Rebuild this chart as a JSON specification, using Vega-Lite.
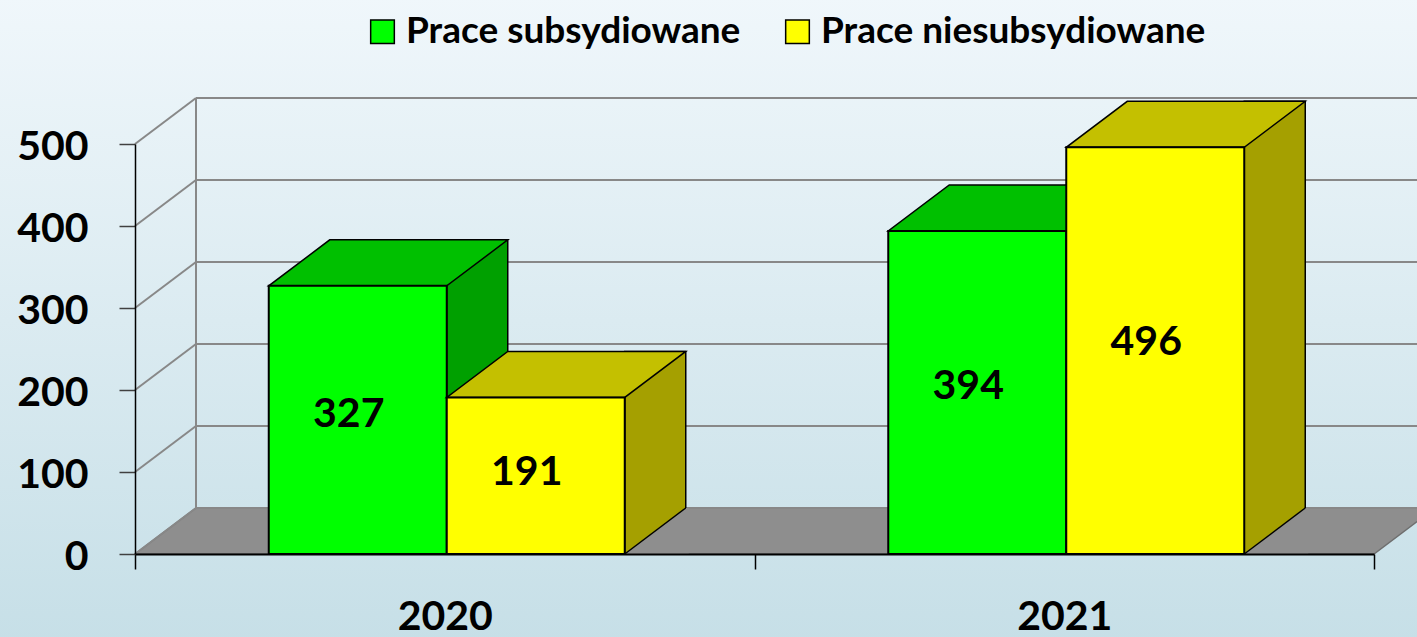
{
  "$schema": "https://vega.github.io/schema/vega-lite/v6.json",
  "width": 1239,
  "height": 410,
  "autosize": {"type": "none"},
  "padding": {"left": 135, "top": 144, "right": 43, "bottom": 83},
  "background": "#dcebf1",
  "config": {
    "view": {"stroke": null},
    "font": "Lato",
    "legend": {"padding": 0, "symbolType": "square", "symbolSize": 560, "symbolStrokeColor": "black", "symbolStrokeWidth": 1.5, "symbolOpacity": 1, "labelFont": "Lato", "labelFontWeight": "bold", "labelFontSize": 37, "labelColor": "black", "labelOffset": 5, "columnPadding": 38, "labelLimit": 600}
  },
  "data": {"values": [
    {"year": "2020", "series": "Prace subsydiowane", "value": 327},
    {"year": "2020", "series": "Prace niesubsydiowane", "value": 191},
    {"year": "2021", "series": "Prace subsydiowane", "value": 394},
    {"year": "2021", "series": "Prace niesubsydiowane", "value": 496}
  ]},
  "resolve": {"scale": {"y": "independent"}},
  "layer": [
    {
      "layer": [
        {
          "data": {"values": [{}]},
          "mark": {"type": "rect", "xOffset": -140, "x2Offset": 50, "opacity": 1, "fill": {"gradient": "linear", "x1": 0, "y1": 0, "x2": 0, "y2": 1, "stops": [{"offset": 0, "color": "#f0f7fb"}, {"offset": 1, "color": "#c6dfe7"}]}},
          "encoding": {
            "x": {"datum": "2020", "bandPosition": 0, "type": "nominal", "title": null, "scale": {"type": "band", "domain": ["2020", "2021"], "paddingInner": 0, "paddingOuter": 0},
              "axis": {"zindex": 1, "title": null, "domainColor": "black", "domainWidth": 2, "tickColor": "black", "tickSize": 15, "tickWidth": 1.5, "tickBand": "extent", "labelFont": "Lato", "labelFontWeight": "bold", "labelFontSize": 41, "labelColor": "black", "labelPadding": 28, "labelAngle": 0, "grid": false}},
            "x2": {"datum": "2021", "bandPosition": 1},
            "y": {"datum": 680, "type": "quantitative", "title": null, "scale": {"domain": [0, 500], "nice": false},
              "axis": {"zindex": 1, "title": null, "values": [0, 100, 200, 300, 400, 500], "domainColor": "black", "domainWidth": 1.5, "tickColor": "#404040", "tickSize": 16, "tickWidth": 1.5, "labelFont": "Lato", "labelFontWeight": "bold", "labelFontSize": 41, "labelColor": "black", "labelPadding": 31, "labelOffset": 3, "grid": false}},
            "y2": {"datum": -110}
          }
        },
        {
          "data": {"values": [{}]},
          "mark": {"type": "point", "shape": "M0,0L12.39,0L13,-0.46L0.61,-0.46Z", "size": 40000, "filled": true, "fill": "#8e8e8e", "stroke": "#6e6e6e", "strokeWidth": 1.5, "opacity": 1},
          "encoding": {
            "x": {"datum": "2020", "bandPosition": 0, "type": "nominal", "title": null},
            "y": {"datum": 0, "type": "quantitative", "title": null}
          }
        },
        {
          "data": {"values": [{"v": 0}, {"v": 100}, {"v": 200}, {"v": 300}, {"v": 400}, {"v": 500}]},
          "mark": {"type": "rule", "color": "#888888", "strokeWidth": 2, "xOffset": 61, "x2Offset": 61, "yOffset": -46},
          "encoding": {
            "x": {"datum": "2020", "bandPosition": 0, "type": "nominal", "title": null},
            "x2": {"datum": "2021", "bandPosition": 1},
            "y": {"field": "v", "type": "quantitative", "title": null}
          }
        },
        {
          "data": {"values": [{"v": 0}, {"v": 100}, {"v": 200}, {"v": 300}, {"v": 400}, {"v": 500}]},
          "mark": {"type": "rule", "color": "#888888", "strokeWidth": 2, "x2Offset": 61, "y2Offset": -46},
          "encoding": {
            "x": {"datum": "2020", "bandPosition": 0, "type": "nominal", "title": null},
            "x2": {"datum": "2020", "bandPosition": 0},
            "y": {"field": "v", "type": "quantitative", "title": null},
            "y2": {"field": "v"}
          }
        },
        {
          "data": {"values": [{}]},
          "mark": {"type": "rule", "color": "#888888", "strokeWidth": 2, "xOffset": 61, "yOffset": -46, "y2Offset": -46},
          "encoding": {
            "x": {"datum": "2020", "bandPosition": 0, "type": "nominal", "title": null},
            "y": {"datum": 0, "type": "quantitative", "title": null},
            "y2": {"datum": 500}
          }
        },
        {
          "transform": [{"filter": "datum.series == 'Prace subsydiowane'"}],
          "mark": {"type": "bar", "width": 61, "xOffset": 32.5, "yOffset": -46, "fill": "#00a000", "stroke": "black", "strokeWidth": 1.5, "opacity": 1},
          "encoding": {
            "x": {"field": "year", "type": "nominal", "title": null},
            "y": {"field": "value", "type": "quantitative", "stack": null, "title": null}
          }
        },
        {
          "transform": [{"filter": "datum.series == 'Prace subsydiowane'"}],
          "mark": {"type": "point", "shape": "M-0.89,0L0.89,0L1.5,-0.46L-0.28,-0.46Z", "size": 40000, "filled": true, "fill": "#00c000", "stroke": "black", "strokeWidth": 1.5, "opacity": 1, "xOffset": -87},
          "encoding": {
            "x": {"field": "year", "type": "nominal", "title": null},
            "y": {"field": "value", "type": "quantitative", "title": null}
          }
        },
        {
          "transform": [{"filter": "datum.series == 'Prace subsydiowane'"}],
          "mark": {"type": "bar", "width": 178, "xOffset": -87, "stroke": "black", "strokeWidth": 2, "opacity": 1},
          "encoding": {
            "x": {"field": "year", "type": "nominal", "title": null},
            "y": {"field": "value", "type": "quantitative", "stack": null, "title": null},
            "color": {"field": "series", "type": "nominal", "scale": {"domain": ["Prace subsydiowane", "Prace niesubsydiowane"], "range": ["#00ff00", "#ffff00"]}, "legend": {"title": null, "orient": "none", "direction": "horizontal", "legendX": 229, "legendY": -131}}
          }
        },
        {
          "transform": [{"filter": "datum.series == 'Prace niesubsydiowane'"}],
          "mark": {"type": "bar", "width": 61, "xOffset": 210.5, "yOffset": -46, "fill": "#a5a000", "stroke": "black", "strokeWidth": 1.5, "opacity": 1},
          "encoding": {
            "x": {"field": "year", "type": "nominal", "title": null},
            "y": {"field": "value", "type": "quantitative", "stack": null, "title": null}
          }
        },
        {
          "transform": [{"filter": "datum.series == 'Prace niesubsydiowane'"}],
          "mark": {"type": "point", "shape": "M0,0L0.61,-0.46L0.64,-0.46L0.64,0.01Z", "size": 40000, "filled": true, "fill": "#8e8e8e", "strokeWidth": 0, "opacity": 1, "xOffset": 180},
          "encoding": {
            "x": {"field": "year", "type": "nominal", "title": null},
            "y": {"datum": 0, "type": "quantitative", "title": null}
          }
        },
        {
          "transform": [{"filter": "datum.series == 'Prace niesubsydiowane'"}],
          "mark": {"type": "point", "shape": "M0,0L0.61,-0.46", "size": 40000, "filled": false, "stroke": "black", "strokeWidth": 1.5, "opacity": 1, "xOffset": 180},
          "encoding": {
            "x": {"field": "year", "type": "nominal", "title": null},
            "y": {"datum": 0, "type": "quantitative", "title": null}
          }
        },
        {
          "transform": [{"filter": "datum.series == 'Prace niesubsydiowane'"}],
          "mark": {"type": "point", "shape": "M-0.89,0L0.89,0L1.5,-0.46L-0.28,-0.46Z", "size": 40000, "filled": true, "fill": "#c4c000", "stroke": "black", "strokeWidth": 1.5, "opacity": 1, "xOffset": 91},
          "encoding": {
            "x": {"field": "year", "type": "nominal", "title": null},
            "y": {"field": "value", "type": "quantitative", "title": null}
          }
        },
        {
          "transform": [{"filter": "datum.series == 'Prace niesubsydiowane'"}],
          "mark": {"type": "bar", "width": 178, "xOffset": 91, "stroke": "black", "strokeWidth": 2, "opacity": 1},
          "encoding": {
            "x": {"field": "year", "type": "nominal", "title": null},
            "y": {"field": "value", "type": "quantitative", "stack": null, "title": null},
            "color": {"field": "series", "type": "nominal", "scale": {"domain": ["Prace subsydiowane", "Prace niesubsydiowane"], "range": ["#00ff00", "#ffff00"]}, "legend": {"title": null, "orient": "none", "direction": "horizontal", "legendX": 229, "legendY": -131}}
          }
        }
      ]
    },
    {
      "transform": [{"filter": "datum.series == 'Prace subsydiowane'"}],
      "mark": {"type": "text", "font": "Lato", "fontWeight": "bold", "fontSize": 41, "color": "black", "xOffset": -96, "baseline": "middle"},
      "encoding": {
        "x": {"field": "year", "type": "nominal", "title": null},
        "y": {"field": "value", "type": "quantitative", "scale": {"domain": [0, 965], "nice": false}, "axis": null, "title": null},
        "text": {"field": "value", "type": "quantitative"}
      }
    },
    {
      "transform": [{"filter": "datum.series == 'Prace niesubsydiowane'"}],
      "mark": {"type": "text", "font": "Lato", "fontWeight": "bold", "fontSize": 41, "color": "black", "xOffset": 82, "baseline": "middle"},
      "encoding": {
        "x": {"field": "year", "type": "nominal", "title": null},
        "y": {"field": "value", "type": "quantitative", "scale": {"domain": [0, 965], "nice": false}, "axis": null, "title": null},
        "text": {"field": "value", "type": "quantitative"}
      }
    }
  ]
}
